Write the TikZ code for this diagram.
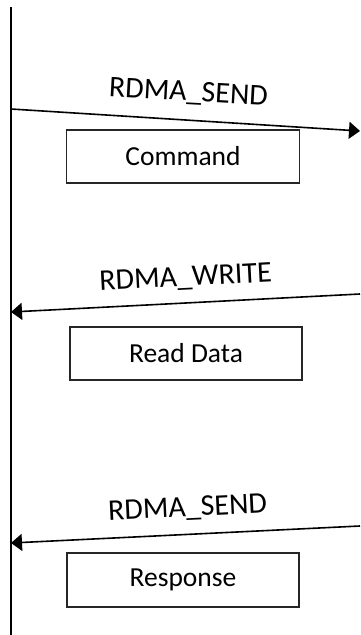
\documentclass[tikz,border=0pt]{standalone}
\usepackage{fontspec}
\setmainfont{Carlito}
\usetikzlibrary{arrows.meta}
\tikzset{
  lifeline/.style={line width=1.6pt, black},
  msg/.style={line width=1.6pt, black, -{Triangle[length=11pt,width=17pt]}},
  msglabel/.style={anchor=base, inner sep=0pt, font=\fontsize{30}{36}\selectfont},
  payload/.style={draw=black!85, line width=1.5pt, minimum width=233pt, minimum height=53pt,
                  inner sep=0pt, font=\fontsize{27.5}{33}\selectfont}
}
\begin{document}
\begin{tikzpicture}[x=1pt, y=-1pt]
  \useasboundingbox (0,0) rectangle (360,635);
  % the host's time line
  \coordinate (top) at (11,7);
  \coordinate (bottom) at (11,635);
  \draw[lifeline] (top) -- (bottom);

  % message end points
  \coordinate (s1) at (11,109);
  \coordinate (e1) at (360,131);
  \coordinate (s2) at (360,294);
  \coordinate (e2) at (11,312);
  \coordinate (s3) at (360,526);
  \coordinate (e3) at (11,543);

  \draw[msg] (s1) -- (e1);
  \draw[msg] (s2) -- (e2);
  \draw[msg] (s3) -- (e3);

  % message names
  \node[msglabel, rotate=-3.2] (l1) at (188,101) {RDMA\_SEND};
  \node[msglabel, rotate=3] (l2) at (186,286) {RDMA\_WRITE};
  \node[msglabel, rotate=2.8] (l3) at (188,516.5) {RDMA\_SEND};

  % what each message carries
  \node[payload] (cmd) at (183,156.5) {Command};
  \node[payload, minimum width=232pt] (rd) at (186,353.5) {Read Data};
  \node[payload, minimum width=232pt, minimum height=54pt] (rsp) at (183,580) {Response};
\end{tikzpicture}
\end{document}
